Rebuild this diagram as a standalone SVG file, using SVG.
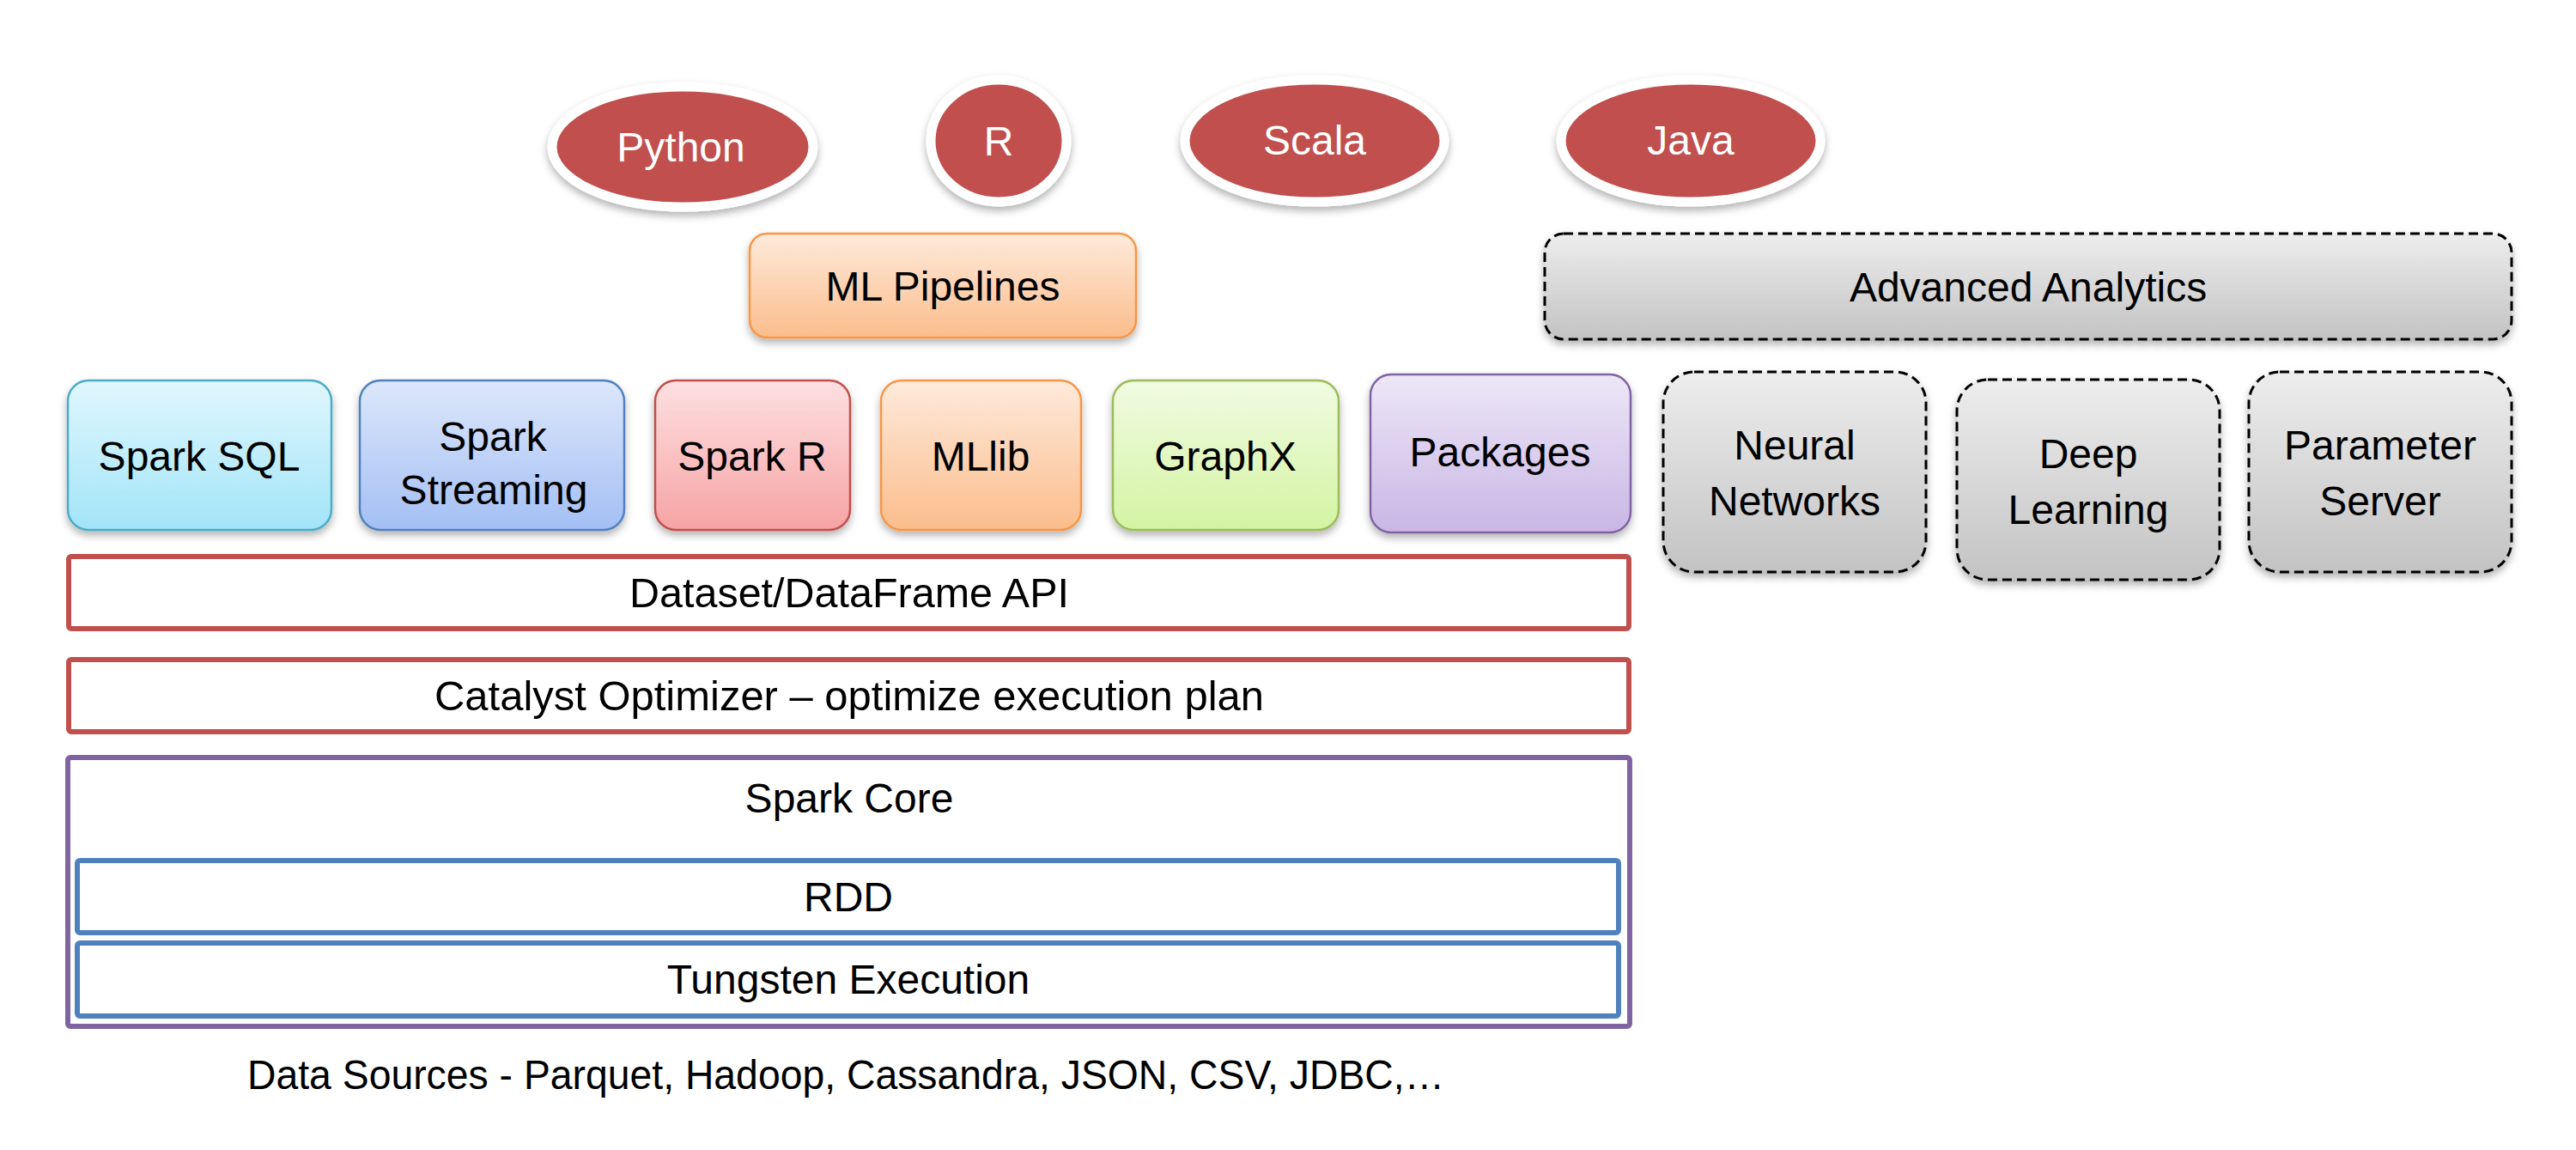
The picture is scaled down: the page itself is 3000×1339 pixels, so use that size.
<svg xmlns="http://www.w3.org/2000/svg" width="3000" height="1339" viewBox="0 0 3000 1339">
<defs>
<linearGradient id="gAqua" x1="0" y1="0" x2="0" y2="1"><stop offset="0" stop-color="#e0f7fd"/><stop offset="1" stop-color="#a2e4f8"/></linearGradient>
<linearGradient id="gBlue" x1="0" y1="0" x2="0" y2="1"><stop offset="0" stop-color="#dde7fb"/><stop offset="1" stop-color="#a3bff4"/></linearGradient>
<linearGradient id="gRed" x1="0" y1="0" x2="0" y2="1"><stop offset="0" stop-color="#fde0e1"/><stop offset="1" stop-color="#f7a3a4"/></linearGradient>
<linearGradient id="gOrange" x1="0" y1="0" x2="0" y2="1"><stop offset="0" stop-color="#feeadb"/><stop offset="1" stop-color="#fbbd8c"/></linearGradient>
<linearGradient id="gGreen" x1="0" y1="0" x2="0" y2="1"><stop offset="0" stop-color="#f1fbe2"/><stop offset="1" stop-color="#d3f4a2"/></linearGradient>
<linearGradient id="gPurple" x1="0" y1="0" x2="0" y2="1"><stop offset="0" stop-color="#ede7f7"/><stop offset="1" stop-color="#c9b6e5"/></linearGradient>
<linearGradient id="gGrey" x1="0" y1="0" x2="0" y2="1"><stop offset="0" stop-color="#ededed"/><stop offset="1" stop-color="#c3c3c3"/></linearGradient>
<filter id="sh" x="-10%" y="-10%" width="120%" height="135%"><feDropShadow dx="0" dy="5" stdDeviation="5" flood-color="#000" flood-opacity="0.3"/></filter>
</defs>
<style>
text{font-family:'Liberation Sans',Arial,sans-serif;font-size:48px;fill:#000;text-anchor:middle}
.w{fill:#fff}
.lang{fill:#c0504d;stroke:#fff;stroke-width:11;filter:url(#sh)}
.box{stroke-width:2.5;filter:url(#sh)}
.dash{stroke:#000;stroke-width:3;stroke-dasharray:11 6;fill:url(#gGrey);filter:url(#sh)}
.layer{fill:#fff;stroke-width:6}
</style>
<rect width="3000" height="1339" fill="#fff"/>

<g id="python"><ellipse class="lang" cx="795" cy="171" rx="152" ry="70"/><text class="w" x="793" y="188">Python</text></g>
<g id="r"><ellipse class="lang" cx="1163" cy="164" rx="79" ry="71"/><text class="w" x="1163" y="181">R</text></g>
<g id="scala"><ellipse class="lang" cx="1531" cy="164" rx="151" ry="71"/><text class="w" x="1531" y="180">Scala</text></g>
<g id="java"><ellipse class="lang" cx="1969" cy="164" rx="151" ry="71"/><text class="w" x="1969" y="180">Java</text></g>

<g id="ml-pipelines"><rect class="box" x="873" y="272" width="450" height="121" rx="20" fill="url(#gOrange)" stroke="#f79646"/><text x="1098" y="350">ML Pipelines</text></g>
<g id="advanced-analytics"><rect class="dash" x="1799" y="272" width="1126" height="123" rx="22"/><text x="2362" y="351">Advanced Analytics</text></g>

<g id="spark-sql"><rect class="box" x="79" y="443" width="307" height="174" rx="24" fill="url(#gAqua)" stroke="#4bacc6"/><text x="232" y="548">Spark SQL</text></g>
<g id="spark-streaming"><rect class="box" x="419" y="443" width="308" height="174" rx="24" fill="url(#gBlue)" stroke="#4f81bd"/><text x="574" y="525">Spark</text><text x="575" y="587">Streaming</text></g>
<g id="spark-r"><rect class="box" x="763" y="443" width="227" height="174" rx="24" fill="url(#gRed)" stroke="#c0504d"/><text x="876" y="548">Spark R</text></g>
<g id="mllib"><rect class="box" x="1026" y="443" width="233" height="174" rx="24" fill="url(#gOrange)" stroke="#f79646"/><text x="1142" y="548">MLlib</text></g>
<g id="graphx"><rect class="box" x="1296" y="443" width="263" height="174" rx="24" fill="url(#gGreen)" stroke="#9bbb59"/><text x="1427" y="548">GraphX</text></g>
<g id="packages"><rect class="box" x="1596" y="436" width="303" height="184" rx="24" fill="url(#gPurple)" stroke="#8064a2"/><text x="1747" y="543">Packages</text></g>

<g id="neural-networks"><rect class="dash" x="1937" y="433" width="306" height="233" rx="36"/><text x="2090" y="535">Neural</text><text x="2090" y="600">Networks</text></g>
<g id="deep-learning"><rect class="dash" x="2279" y="442" width="306" height="233" rx="36"/><text x="2432" y="545">Deep</text><text x="2432" y="610">Learning</text></g>
<g id="parameter-server"><rect class="dash" x="2619" y="433" width="306" height="233" rx="36"/><text x="2772" y="535">Parameter</text><text x="2772" y="600">Server</text></g>

<g id="dataset-api"><rect class="layer" x="80" y="648" width="1817" height="84" rx="3" stroke="#c0504d"/><text x="989" y="707" textLength="512" lengthAdjust="spacingAndGlyphs">Dataset/DataFrame API</text></g>
<g id="catalyst"><rect class="layer" x="80" y="768" width="1817" height="84" rx="3" stroke="#c0504d"/><text x="989" y="827" textLength="966" lengthAdjust="spacingAndGlyphs">Catalyst Optimizer – optimize execution plan</text></g>
<g id="spark-core"><rect class="layer" x="79" y="882" width="1819" height="313" rx="3" stroke="#8064a2"/><text x="989" y="946">Spark Core</text></g>
<g id="rdd"><rect class="layer" x="90" y="1002" width="1795" height="84" rx="3" stroke="#4f81bd"/><text x="988" y="1061">RDD</text></g>
<g id="tungsten"><rect class="layer" x="90" y="1098" width="1795" height="85" rx="3" stroke="#4f81bd"/><text x="988" y="1157">Tungsten Execution</text></g>

<g id="data-sources"><text x="288" y="1268" style="text-anchor:start" textLength="1394" lengthAdjust="spacingAndGlyphs">Data Sources - Parquet, Hadoop, Cassandra, JSON, CSV, JDBC,…</text></g>

<g id="connectors"></g>
</svg>
